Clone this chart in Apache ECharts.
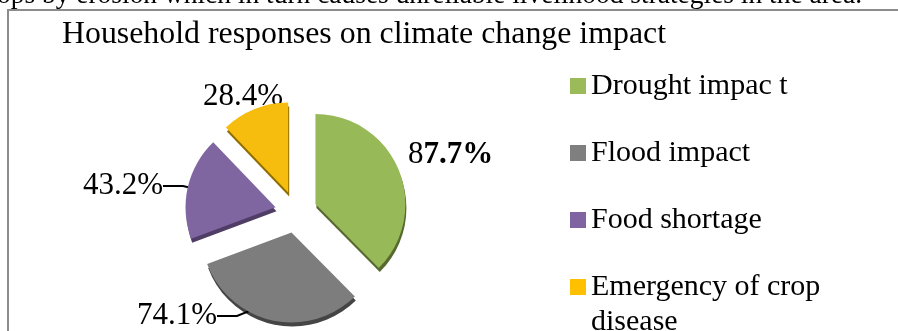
<!DOCTYPE html>
<html>
<head>
<meta charset="utf-8">
<script src="https://cdn.jsdelivr.net/npm/echarts@6/dist/echarts.min.js"></script>
<style>
html,body{margin:0;padding:0;background:#fff;}
#chart{width:898px;height:331px;}
</style>
</head>
<body>
<div id="chart"></div>
<script>
// ---- data ----
const categories = ['Drought impac t', 'Flood impact', 'Food shortage', 'Emergency of crop disease'];
const values = [87.7, 74.1, 43.2, 28.4];
const titleText = 'Household responses on climate change impact';
const contextText = 'ops by erosion which in turn causes unreliable livelihood strategies in the area.';

// ---- styles ----
const colors = ['#9bbb59', '#7f7f7f', '#8064a2', '#ffc000'];
const sliceColors = ['#97b957', '#7d7d7d', '#7f66a1', '#f6bd0e'];
const depthColors = ['#56692e', '#454545', '#4f3d66', '#8f6d00'];
const labelPos = [[408, 155, 'left'], [217, 316, 'right'], [163, 186, 'right'], [203, 97, 'left']];
const showLine = [false, true, true, false];
const serif = '"Liberation Serif", "Times New Roman", serif';
const CENTER = [296, 212], R = 90, EXPLODE = 21;

function measure(text, size) {
  const c = document.createElement('canvas').getContext('2d');
  c.font = size + 'px ' + serif;
  return c.measureText(text).width;
}
const titleSize = 31;
const titleScale = 604 / measure(titleText, titleSize);
const ctxSize = 27;
const ctxScale = 865 / measure(contextText, ctxSize);

const chart = echarts.init(document.getElementById('chart'), null, {renderer: 'canvas'});

const mainData = categories.map((n, i) => ({
  name: n, value: values[i], selected: true,
  itemStyle: {color: sliceColors[i]}
}));
const depthData = categories.map((n, i) => ({
  name: n, value: values[i], selected: true,
  itemStyle: {color: depthColors[i]}
}));
const labelData = categories.map((n, i) => ({
  name: n, value: values[i],
  labelLine: {show: showLine[i]}
}));

const pieBase = {
  type: 'pie',
  radius: [0, R],
  startAngle: 90,
  clockwise: true,
  emphasis: {disabled: true},
  itemStyle: {borderWidth: 0}
};

const legendBase = {
  orient: 'vertical',
  left: 570,
  height: 400,
  padding: 0,
  itemWidth: 16, itemHeight: 16,
  itemGap: 33,
  icon: 'rect',
  selectedMode: false,
  textStyle: {fontFamily: serif, fontSize: 30, color: '#000', lineHeight: 34}
};

chart.setOption({
  animation: false,
  backgroundColor: '#ffffff',
  graphic: [
    {type: 'polyline', shape: {points: [[8, 331], [8, 10], [898, 10]]},
     style: {stroke: '#8c8c8c', lineWidth: 2, fill: null}, silent: true},
    {type: 'text', x: -3, y: -4, scaleX: ctxScale,
     style: {text: contextText, fontSize: ctxSize, fontFamily: serif, fill: '#000', verticalAlign: 'middle'}},
    {type: 'text', x: 62, y: 35, scaleX: titleScale,
     style: {text: titleText, fontSize: titleSize, fontFamily: serif, fill: '#000', verticalAlign: 'middle'}}
  ],
  legend: [
    Object.assign({}, legendBase, {
      top: 69,
      data: categories.slice(0, 3).map((n, i) => ({name: n, itemStyle: {color: colors[i]}}))
    }),
    Object.assign({}, legendBase, {
      top: 234.5,
      formatter: function () { return '\nEmergency of crop\ndisease'; },
      textStyle: {fontFamily: serif, fontSize: 30, color: '#000', lineHeight: 35},
      data: [{name: categories[3], itemStyle: {color: colors[3]}}]
    })
  ],
  series: [
    Object.assign({}, pieBase, {
      name: 'main', z: 3, center: CENTER,
      selectedMode: 'multiple', selectedOffset: EXPLODE,
      label: {show: false}, labelLine: {show: false},
      data: mainData
    }),
    Object.assign({}, pieBase, {
      name: 'depth', z: 1, silent: true, center: [CENTER[0] + 1, CENTER[1] + 4],
      selectedMode: 'multiple', selectedOffset: EXPLODE,
      label: {show: false}, labelLine: {show: false},
      data: depthData
    }),
    Object.assign({}, pieBase, {
      name: 'labels', z: 2, silent: true, center: CENTER,
      selectedMode: false,
      itemStyle: {color: 'rgba(0,0,0,0)', borderWidth: 0},
      avoidLabelOverlap: false,
      label: {
        show: true,
        position: 'outside',
        fontFamily: serif,
        fontSize: 31,
        color: '#000',
        formatter: function (p) {
          const s = p.value.toFixed(1) + '%';
          if (p.dataIndex === 0) return '{n|' + s.charAt(0) + '}{b|' + s.slice(1) + '}';
          return '{n|' + s + '}';
        },
        rich: {
          n: {fontFamily: serif, fontSize: 31, color: '#000'},
          b: {fontFamily: serif, fontSize: 31, color: '#000', fontWeight: 'bold'}
        }
      },
      labelLine: {show: true, length: 10, length2: 20, lineStyle: {color: '#000', width: 2}},
      labelLayout: function (params) {
        const p = labelPos[params.dataIndex];
        return {x: p[0], y: p[1], align: p[2], verticalAlign: 'middle'};
      },
      data: labelData
    })
  ]
});
</script>
</body>
</html>
